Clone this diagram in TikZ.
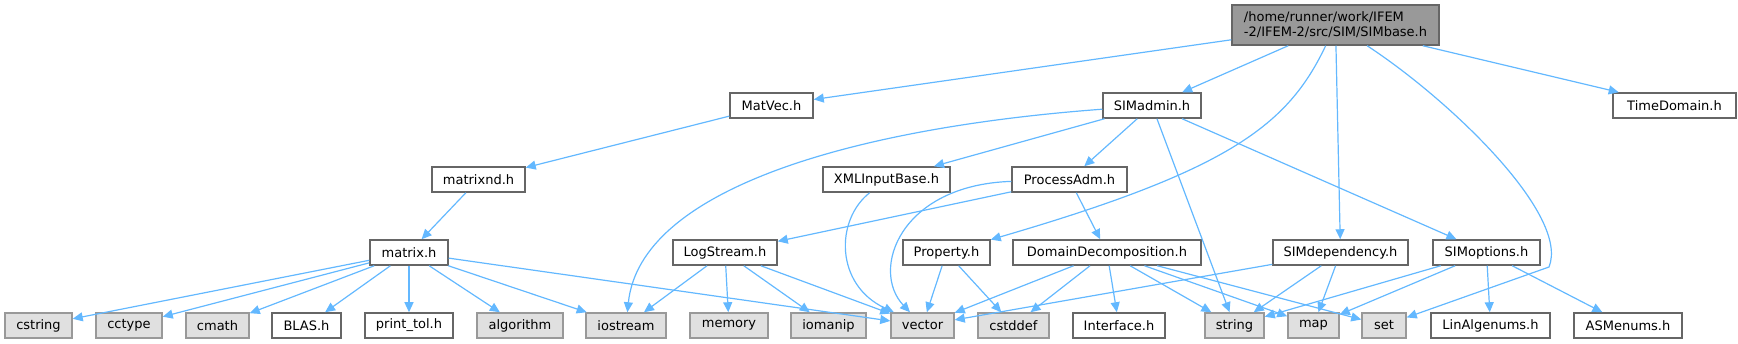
\documentclass[tikz,border=0pt]{standalone}
\usepackage{fontspec}
\setmainfont{DejaVu Sans}
\usetikzlibrary{arrows.meta}
\definecolor{edgeblue}{HTML}{63B8FF}
\definecolor{hdrborder}{HTML}{666666}
\definecolor{sysborder}{HTML}{999999}
\definecolor{sysfill}{HTML}{E0E0E0}
\definecolor{rootfill}{HTML}{999999}

\begin{document}
\begin{tikzpicture}[x=1pt, y=-1pt, >={Triangle[length=10pt,width=9pt]},
  font=\fontsize{13}{15}\selectfont,
  hdr/.style={draw=hdrborder, line width=1.5pt, fill=white, inner sep=0pt, minimum height=25pt},
  sys/.style={hdr, draw=sysborder, fill=sysfill},
  root/.style={hdr, fill=rootfill, minimum height=40pt, align=left},
  dep/.style={->, draw=edgeblue, line width=1.2pt}]
  \useasboundingbox (0,0) rectangle (1738,344);
  \node[root, minimum width=207pt] (SIMbase) at (1335.5,25) {/home/runner/work/IFEM\\-2/IFEM-2/src/SIM/SIMbase.h};
  \node[hdr, minimum width=83pt] (MatVec) at (771.5,105.5) {MatVec.h};
  \node[hdr, minimum width=98pt] (SIMadmin) at (1152,105.5) {SIMadmin.h};
  \node[hdr, minimum width=123pt] (TimeDomain) at (1674.5,105.5) {TimeDomain.h};
  \node[hdr, minimum width=93pt] (matrixnd) at (478.5,179.5) {matrixnd.h};
  \node[hdr, minimum width=127pt] (XMLInputBase) at (886.5,179.5) {XMLInputBase.h};
  \node[hdr, minimum width=115pt] (ProcessAdm) at (1069.5,179.5) {ProcessAdm.h};
  \node[hdr, minimum width=78pt] (matrix) at (409,252.5) {matrix.h};
  \node[hdr, minimum width=104pt] (LogStream) at (725,252.5) {LogStream.h};
  \node[hdr, minimum width=87pt] (Property) at (946.5,252.5) {Property.h};
  \node[hdr, minimum width=188pt] (DomainDecomp) at (1107,252.5) {DomainDecomposition.h};
  \node[hdr, minimum width=135pt] (SIMdependency) at (1340.5,252.5) {SIMdependency.h};
  \node[hdr, minimum width=107pt] (SIMoptions) at (1486.5,252.5) {SIMoptions.h};
  \node[sys, minimum width=67pt] (cstring) at (38.5,325.5) {cstring};
  \node[sys, minimum width=66pt] (cctype) at (129,325.5) {cctype};
  \node[sys, minimum width=63pt] (cmath) at (217.5,325.5) {cmath};
  \node[hdr, minimum width=69pt] (BLAS) at (306.5,325.5) {BLAS.h};
  \node[hdr, minimum width=88pt] (printtol) at (409,325.5) {print\_tol.h};
  \node[sys, minimum width=86pt] (algorithm) at (520,325.5) {algorithm};
  \node[sys, minimum width=80pt] (iostream) at (626,325.5) {iostream};
  \node[sys, minimum width=78pt] (memory) at (729,325.5) {memory};
  \node[sys, minimum width=75pt] (iomanip) at (828.5,325.5) {iomanip};
  \node[sys, minimum width=63pt] (vector) at (922.5,325.5) {vector};
  \node[sys, minimum width=71pt] (cstddef) at (1013.5,325.5) {cstddef};
  \node[hdr, minimum width=92pt] (Interface) at (1119,325.5) {Interface.h};
  \node[sys, minimum width=59pt] (string) at (1234.5,325.5) {string};
  \node[sys, minimum width=51pt] (map) at (1313.5,325.5) {map};
  \node[sys, minimum width=44pt] (set) at (1384,325.5) {set};
  \node[hdr, minimum width=119pt] (LinAlgenums) at (1490.5,325.5) {LinAlgenums.h};
  \node[hdr, minimum width=108pt] (ASMenums) at (1628,325.5) {ASMenums.h};
  \coordinate (setbend) at (1549,267);

  \draw[dep] (SIMbase) -- (MatVec);
  \draw[dep] (SIMbase) -- (SIMadmin);
  \draw[dep] (SIMbase) .. controls (1288,125) and (1230,170) .. (Property);
  \draw[dep] (SIMbase) -- (SIMdependency);
  \draw[dep] (SIMbase) .. controls (1450,100) and (1570,215) .. (setbend) -- (set);
  \draw[dep] (SIMbase) -- (TimeDomain);
  \draw[dep] (MatVec) -- (matrixnd);
  \draw[dep] (matrixnd) -- (matrix);
  \draw[dep] (matrix) -- (cstring);
  \draw[dep] (matrix) -- (cctype);
  \draw[dep] (matrix) -- (cmath);
  \draw[dep] (matrix) -- (BLAS);
  \draw[dep] (matrix) -- (printtol);
  \draw[dep] (matrix) -- (algorithm);
  \draw[dep] (matrix) -- (iostream);
  \draw[dep] (matrix) -- (vector);
  \draw[dep] (SIMadmin) .. controls (850,128) and (640,190) .. (iostream);
  \draw[dep] (SIMadmin) -- (XMLInputBase);
  \draw[dep] (SIMadmin) -- (ProcessAdm);
  \draw[dep] (SIMadmin) -- (string);
  \draw[dep] (SIMadmin) -- (SIMoptions);
  \draw[dep] (XMLInputBase) .. controls (835,220) and (835,285) .. (vector);
  \draw[dep] (ProcessAdm) .. controls (900,185) and (870,270) .. (vector);
  \draw[dep] (ProcessAdm) -- (LogStream);
  \draw[dep] (ProcessAdm) -- (DomainDecomp);
  \draw[dep] (LogStream) -- (iostream);
  \draw[dep] (LogStream) -- (memory);
  \draw[dep] (LogStream) -- (iomanip);
  \draw[dep] (LogStream) -- (vector);
  \draw[dep] (Property) -- (vector);
  \draw[dep] (Property) -- (cstddef);
  \draw[dep] (DomainDecomp) -- (vector);
  \draw[dep] (DomainDecomp) -- (cstddef);
  \draw[dep] (DomainDecomp) -- (Interface);
  \draw[dep] (DomainDecomp) -- (string);
  \draw[dep] (DomainDecomp) -- (map);
  \draw[dep] (DomainDecomp) -- (set);
  \draw[dep] (SIMdependency) -- (vector);
  \draw[dep] (SIMdependency) -- (string);
  \draw[dep] (SIMdependency) -- (map);
  \draw[dep] (SIMoptions) -- (string);
  \draw[dep] (SIMoptions) -- (map);
  \draw[dep] (SIMoptions) -- (LinAlgenums);
  \draw[dep] (SIMoptions) -- (ASMenums);
\end{tikzpicture}
\end{document}
